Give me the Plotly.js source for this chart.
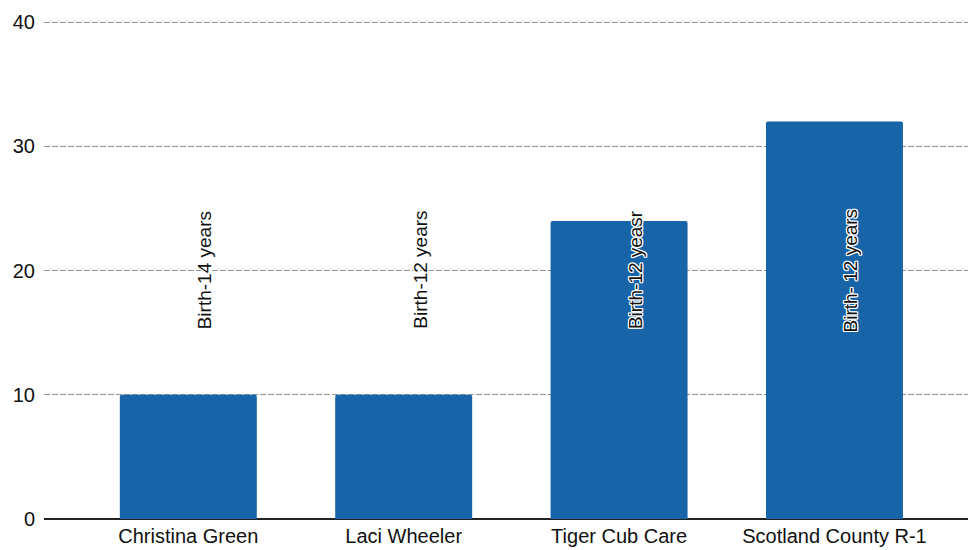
<!DOCTYPE html>
<html>
<head>
<meta charset="utf-8">
<script src="https://cdn.plot.ly/plotly-3.0.1.min.js"></script>
<style>html,body{margin:0;padding:0;background:#fff;}#chart{width:968px;height:550px;}</style>
</head>
<body>
<div id="chart"></div>
<script>
const categories = ["Christina Green", "Laci Wheeler", "Tiger Cub Care", "Scotland County R-1"];
const values = [10, 10, 24, 32];
const ageLabels = ["Birth-14 years", "Birth-12 years", "Birth-12 yeasr", "Birth- 12 years"];
const yTicks = [0, 10, 20, 30, 40];

const trace = {
  type: "bar",
  x: categories,
  y: values,
  marker: { color: "#1764a8", cornerradius: 2, line: { width: 0 } },
  hoverinfo: "x+y"
};

const annotations = categories.map((c, i) => ({
  x: c,
  xref: "x",
  y: 0.5,
  yref: "paper",
  text: ageLabels[i],
  showarrow: false,
  textangle: -90,
  xshift: 16,
  font: {
    family: "Liberation Sans, Arial, sans-serif",
    size: 19,
    color: "#111",
    shadow: "1px 1px 0 #fff, -1px -1px 0 #fff, 1px -1px 0 #fff, -1px 1px 0 #fff, 0 1px 0 #fff, 0 -1px 0 #fff, 1px 0 0 #fff, -1px 0 0 #fff"
  }
}));

const layout = {
  width: 968,
  height: 550,
  margin: { l: 44, r: 0, t: 21, b: 31, pad: 0 },
  paper_bgcolor: "#fff",
  plot_bgcolor: "#fff",
  showlegend: false,
  bargap: 0.364,
  font: { family: "Liberation Sans, Arial, sans-serif", color: "#111", size: 20 },
  xaxis: {
    type: "category",
    range: [-0.67, 3.62],
    showgrid: false,
    showline: false,
    zeroline: false,
    ticks: "",
    ticklabelstandoff: 3,
    tickfont: { size: 20, color: "#111" }
  },
  yaxis: {
    range: [0, 40.1],
    tickvals: yTicks,
    ticktext: yTicks.map(String),
    showgrid: true,
    gridcolor: "#8e939c",
    gridwidth: 1,
    griddash: "6px,2px",
    zeroline: true,
    zerolinecolor: "#222",
    zerolinewidth: 2,
    showline: false,
    ticks: "",
    ticklabelstandoff: 8,
    tickfont: { size: 20, color: "#111" }
  },
  annotations: annotations
};

Plotly.newPlot("chart", [trace], layout, { displayModeBar: false, staticPlot: true });
</script>
</body>
</html>
